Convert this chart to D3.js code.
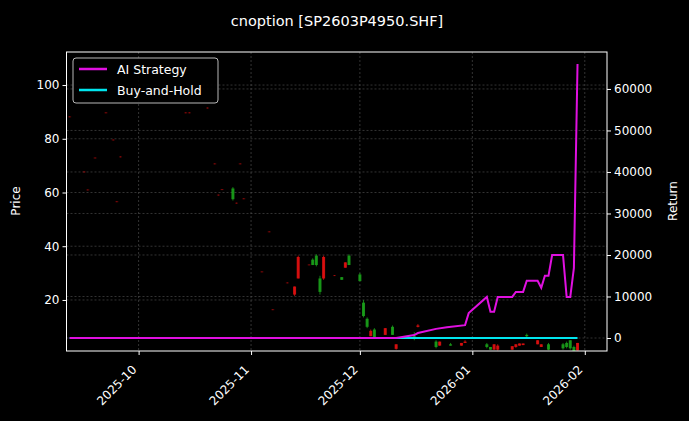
<!DOCTYPE html>
<html><head><meta charset="utf-8">
<script src="https://cdn.jsdelivr.net/npm/d3@7"></script>
<style>body{margin:0;background:#000}svg{display:block}</style>
</head><body><svg id="c" width="689" height="421"></svg>
<script>
const candleDates=["2025-09-12","2025-09-16","2025-09-17","2025-09-19","2025-09-22","2025-09-24","2025-09-25","2025-09-26","2025-10-14","2025-10-15","2025-10-20","2025-10-22","2025-10-23","2025-10-24","2025-10-27","2025-10-28","2025-10-29","2025-10-30","2025-11-04","2025-11-06","2025-11-07","2025-11-11","2025-11-13","2025-11-14","2025-11-17","2025-11-18","2025-11-19","2025-11-20","2025-11-21","2025-11-24","2025-11-26","2025-11-27","2025-11-28","2025-12-01","2025-12-02","2025-12-03","2025-12-04","2025-12-05","2025-12-08","2025-12-10","2025-12-11","2025-12-16","2025-12-17","2025-12-22","2025-12-23","2025-12-26","2025-12-29","2025-12-30","2026-01-05","2026-01-06","2026-01-07","2026-01-08","2026-01-12","2026-01-13","2026-01-14","2026-01-15","2026-01-16","2026-01-19","2026-01-20","2026-01-22","2026-01-26","2026-01-27","2026-01-28","2026-01-29","2026-01-30"];
const openP=[88.3,67.8,61.1,73,89.8,79.7,56.7,73.4,89.8,89.8,91.6,70.8,59.2,61.2,57.5,56.2,70.8,57.8,30.6,45.5,16.5,26.5,25,36,33.2,33,33,23,36,29.2,27.5,34,33,27,14,10,8.5,6,9.5,7,3.5,6,10.5,2.5,4.5,3,4,4.5,2.5,1.5,3.5,3,2.8,3.5,3.8,3.8,6.5,5,3.5,1.5,2,2.5,2,1,4];
const highP=[88.3,67.8,61.1,73,89.8,79.7,56.7,73.4,89.8,89.8,91.6,70.8,59.2,61.2,62,56.2,70.8,57.8,30.6,45.5,16.5,26.5,25,36.5,33.2,35.5,37,29,36.5,29.2,28.5,34,37,30,20,13.5,9,9.5,9.5,10.5,3.5,8,11,5,4.5,4,4,5,4,2.5,3.5,3.5,2.8,3.5,3.8,3.8,7.5,5,3.5,4,4,4.5,5,3,4];
const lowP=[88,67.5,60.8,72.7,89.5,79.4,56.4,73.1,89.5,89.5,91.3,70.5,58.9,60.9,57,55.9,70.5,57.5,30.3,45.2,16.2,26.2,21.5,28,32.9,33,32.5,22,27.5,28.9,27.5,32,33,27,13.5,9.5,6.5,6,7,7,1.5,5,9.8,2,3,3,3,4,2,1.5,1.5,1.2,1.5,2.2,3,3.2,6,3.5,2.5,1.3,1.5,2,1.5,0.8,1.2];
const closeP=[88,67.5,60.8,72.7,89.5,79.4,56.4,73.1,89.5,89.5,91.3,70.5,58.9,60.9,61.5,55.9,70.5,57.5,30.3,45.2,16.2,26.2,22,28,32.9,35,36.5,28,28,28.9,28.5,32,36.5,29.5,19,13,6.5,9,7,10,1.8,6.5,10,4.5,3,3.5,3,4,3.5,2.5,1.5,1.5,1.5,2.5,3,3.2,7,3.5,2.5,3.5,3.5,4,5,2.5,1.2];
const aiDates=["2025-09-12","2025-12-11","2025-12-16","2025-12-17","2025-12-22","2025-12-25","2025-12-30","2025-12-31","2026-01-05","2026-01-06","2026-01-07","2026-01-08","2026-01-12","2026-01-13","2026-01-15","2026-01-16","2026-01-19","2026-01-20","2026-01-21","2026-01-22","2026-01-23","2026-01-26","2026-01-27","2026-01-28","2026-01-29","2026-01-30"];
const aiReturn=[0,0,700,1200,2200,2600,3100,6000,9900,6300,6300,9900,9900,11100,11100,13800,13800,12100,15000,15000,20000,20000,9900,9900,16900,66000];
const bhDates=["2025-09-12","2026-01-30"];
const bhReturn=[0,0];
const priceTicks=[20,40,60,80,100];
const returnTicks=[0,10000,20000,30000,40000,50000,60000];
const monthTicks=["2025-10-01","2025-11-01","2025-12-01","2026-01-01","2026-02-01"];

const P=d3.timeParse("%Y-%m-%d");
const svg=d3.select("#c");
const L=66.5,R=607,T=52,B=351;
svg.append("rect").attr("width",689).attr("height",421).attr("fill","#000");
const x=d3.scaleTime().domain([new Date(2025,8,11,3),new Date(2026,1,7,3)]).range([L,R]);
const y=d3.scaleLinear().domain([1.0,112.3]).range([B,T]);
const y2=d3.scaleLinear().domain([-3130,68900]).range([B,T]);
const g=svg.append("g");
const gridStyle=s=>s.attr("stroke","#555").attr("stroke-width",0.6).attr("stroke-dasharray","2,2");
monthTicks.forEach(t=>gridStyle(g.append("line").attr("x1",x(P(t))).attr("x2",x(P(t))).attr("y1",T).attr("y2",B)));
priceTicks.forEach(t=>gridStyle(g.append("line").attr("x1",L).attr("x2",R).attr("y1",y(t)).attr("y2",y(t))));
returnTicks.forEach(t=>gridStyle(g.append("line").attr("x1",L).attr("x2",R).attr("y1",y2(t)).attr("y2",y2(t))));
svg.append("clipPath").attr("id","cp").append("rect").attr("x",L).attr("y",T).attr("width",R-L).attr("height",B-T);
const cg=svg.append("g").attr("clip-path","url(#cp)");
candleDates.forEach((d,i)=>{
  const up=closeP[i]>openP[i];
  const col=up?"#1a9e1a":"#e01010";
  const cx=x(P(d));
  cg.append("line").attr("x1",cx).attr("x2",cx).attr("y1",y(highP[i])).attr("y2",y(lowP[i])).attr("stroke",col).attr("stroke-width",1).attr("opacity",0.8);
  const y0=y(Math.max(openP[i],closeP[i])),y1=y(Math.min(openP[i],closeP[i]));
  cg.append("rect").attr("x",cx-1.5).attr("y",y0).attr("width",3).attr("height",Math.max(0.8,y1-y0)).attr("fill",col).attr("opacity",Math.abs(openP[i]-closeP[i])<0.5?0.45:0.9);
});
const line=d3.line().x(d=>x(P(d[0]))).y(d=>y2(d[1]));
cg.append("path").attr("d",line(bhDates.map((d,i)=>[d,bhReturn[i]]))).attr("fill","none").attr("stroke","#00e5ee").attr("stroke-width",2);
cg.append("path").attr("d",line(aiDates.map((d,i)=>[d,aiReturn[i]]))).attr("fill","none").attr("stroke","#e010e0").attr("stroke-width",2);
svg.append("rect").attr("x",L).attr("y",T).attr("width",R-L).attr("height",B-T).attr("fill","none").attr("stroke","#fff").attr("stroke-width",1);
const ax=svg.append("g").attr("transform",`translate(0,${B})`).call(d3.axisBottom(x).tickValues(monthTicks.map(P)).tickFormat(d3.timeFormat("%Y-%m")).tickSizeOuter(0).tickSize(4));
ax.selectAll("text").attr("x",-15).attr("y",4).attr("dy","0.71em").attr("transform","rotate(-45)").attr("text-anchor","end");
const ay=svg.append("g").attr("transform",`translate(${L},0)`).call(d3.axisLeft(y).tickValues(priceTicks).tickSizeOuter(0).tickSize(4));
const ay2=svg.append("g").attr("transform",`translate(${R},0)`).call(d3.axisRight(y2).tickValues(returnTicks).tickFormat(d3.format("d")).tickSizeOuter(0).tickSize(4));
[ax,ay,ay2].forEach(a=>{a.select(".domain").remove();a.selectAll("line").attr("stroke","#fff");a.selectAll("text").attr("fill","#fff").style("font-family","DejaVu Sans").style("font-size","12px");});
const txt=(xx,yy,s,sz,rot)=>svg.append("text").attr("x",xx).attr("y",yy).attr("fill","#fff").attr("text-anchor","middle").style("font-family","DejaVu Sans").style("font-size",sz+"px").attr("transform",rot?`rotate(-90,${xx},${yy})`:null).text(s);
txt(337,26,"cnoption [SP2603P4950.SHF]",14.5);
txt(20,201,"Price",12,true);
txt(677,201,"Return",12,true);
const lg=svg.append("g");
lg.append("rect").attr("x",73).attr("y",58).attr("width",145).attr("height",45).attr("rx",3).attr("fill","#000").attr("stroke","#ccc").attr("opacity",0.9);
[["AI Strategy","#e010e0"],["Buy-and-Hold","#00e5ee"]].forEach((e,i)=>{
  const yy=69+i*21;
  lg.append("line").attr("x1",79).attr("x2",107).attr("y1",yy).attr("y2",yy).attr("stroke",e[1]).attr("stroke-width",2.5);
  lg.append("text").attr("x",117).attr("y",yy+4.5).attr("fill","#fff").style("font-family","DejaVu Sans").style("font-size","12.5px").text(e[0]);
});
</script></body></html>
